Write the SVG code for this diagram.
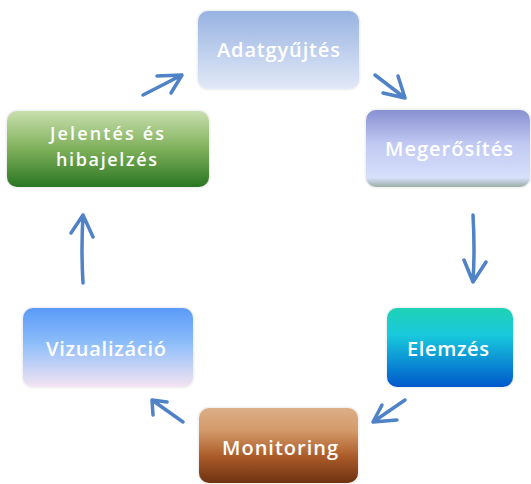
<svg xmlns="http://www.w3.org/2000/svg" width="531" height="484" viewBox="0 0 531 484">
<defs>
<linearGradient id="gA" x1="0" y1="0" x2="0" y2="1"><stop offset="0" stop-color="#98b3e2"/><stop offset="1" stop-color="#e2e9f7"/></linearGradient>
<linearGradient id="gM" x1="0" y1="0" x2="0" y2="1"><stop offset="0" stop-color="#8990d2"/><stop offset="0.45" stop-color="#c2caf3"/><stop offset="0.88" stop-color="#d6dffb"/><stop offset="1" stop-color="#9aaea4"/></linearGradient>
<linearGradient id="gJ" x1="0" y1="0" x2="0" y2="1"><stop offset="0" stop-color="#c8dfae"/><stop offset="0.5" stop-color="#7fb05a"/><stop offset="1" stop-color="#2a7623"/></linearGradient>
<linearGradient id="gE" x1="0" y1="0" x2="0" y2="1"><stop offset="0" stop-color="#1fd2b6"/><stop offset="0.35" stop-color="#18c8dc"/><stop offset="1" stop-color="#0058cc"/></linearGradient>
<linearGradient id="gMo" x1="0" y1="0" x2="0" y2="1"><stop offset="0" stop-color="#dcae88"/><stop offset="0.3" stop-color="#d49a6a"/><stop offset="0.65" stop-color="#aa5a28"/><stop offset="1" stop-color="#6e3212"/></linearGradient>
<linearGradient id="gV" x1="0" y1="0" x2="0" y2="1"><stop offset="0" stop-color="#5a9af8"/><stop offset="0.45" stop-color="#8ebefa"/><stop offset="1" stop-color="#f4e4f2"/></linearGradient>
</defs>
<style>
.box{stroke:#f2f2f2;stroke-width:3;paint-order:stroke}
.t{font-family:"Open Sans","Liberation Sans",sans-serif;font-size:20px;font-weight:600;fill:#ffffff;text-anchor:middle}
.t2{font-size:18px}
.arr{fill:none;stroke:#4f82c6;stroke-width:3.5;stroke-linecap:round;stroke-linejoin:round}
</style>
<g id="connectors">
<path class="arr" d="M143,95 L182,75 M157,76 L182,75 L171,93"/>
<path class="arr" d="M375,75 L405,98 M398,76 L405,98 L383,93"/>
<path class="arr" d="M473,215 Q475,250 473,282 M464,260 L473,282 L486,262"/>
<path class="arr" d="M405,400 L373,422 M382,405 L373,422 L397,420"/>
<path class="arr" d="M183,422 L152,400 M153,415 L152,400 L167,402"/>
<path class="arr" d="M83,283 Q81,250 83,215 M71,233 L83,215 L93,237"/>
</g>
<g id="adatgyujtes">
<rect class="box" x="198" y="11" width="161" height="78" rx="10" fill="url(#gA)"/>
<text class="t" x="278.5" y="57" textLength="123" lengthAdjust="spacing">Adatgyűjtés</text>
</g>
<g id="megerosites">
<rect class="box" x="366" y="110" width="164" height="77" rx="10" fill="url(#gM)"/>
<text class="t" x="449" y="156" textLength="128" lengthAdjust="spacing">Megerősítés</text>
</g>
<g id="jelentes">
<rect class="box" x="7" y="111" width="202" height="76" rx="10" fill="url(#gJ)"/>
<text class="t t2" x="107" y="140" textLength="114" lengthAdjust="spacing">Jelentés és</text>
<text class="t t2" x="106.5" y="166" textLength="101" lengthAdjust="spacing">hibajelzés</text>
</g>
<g id="elemzes">
<rect class="box" x="387" y="308" width="126" height="79" rx="10" fill="url(#gE)"/>
<text class="t" x="448" y="356" textLength="82" lengthAdjust="spacing">Elemzés</text>
</g>
<g id="monitoring">
<rect class="box" x="199" y="408" width="159" height="75" rx="10" fill="url(#gMo)"/>
<text class="t" x="280" y="455" font-weight="700" textLength="116" lengthAdjust="spacing">Monitoring</text>
</g>
<g id="vizualizacio">
<rect class="box" x="23" y="308" width="170" height="79" rx="10" fill="url(#gV)"/>
<text class="t" x="106" y="356" textLength="120" lengthAdjust="spacing">Vizualizáció</text>
</g>
</svg>
